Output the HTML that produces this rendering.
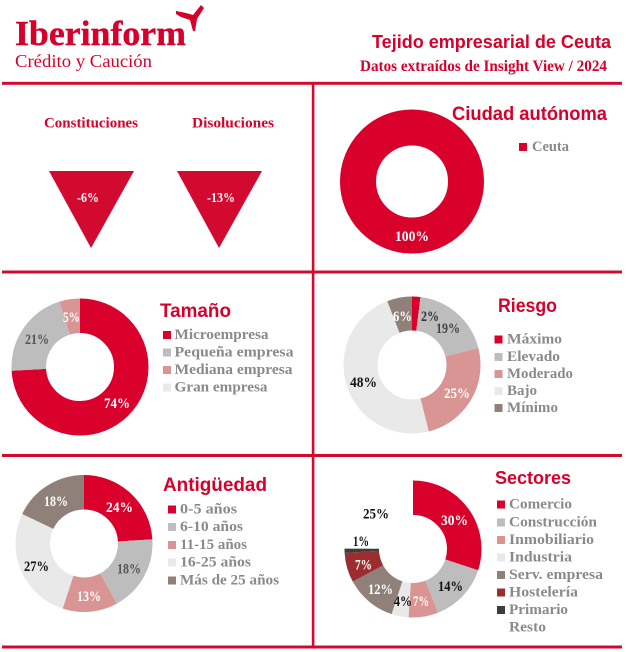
<!DOCTYPE html>
<html><head><meta charset="utf-8"><style>
html,body{margin:0;padding:0;background:#fff;}
svg{display:block;}
.s{font-family:"Liberation Sans",sans-serif;font-weight:bold;fill:#d7002b;}
.f{font-family:"Liberation Serif",serif;font-weight:bold;}
.lg{font-family:"Liberation Serif",serif;font-weight:bold;fill:#8a8a8a;font-size:15px;}
.p{font-family:"Liberation Serif",serif;font-weight:bold;font-size:15px;text-anchor:start;}
</style></head><body>
<svg width="626" height="652" viewBox="0 0 626 652" xmlns="http://www.w3.org/2000/svg">
<rect width="626" height="652" fill="#fff"/>
<!-- header -->
<text x="15" y="45" class="f" font-size="35" fill="#d7002b" stroke="#d7002b" stroke-width="0.4" textLength="171" lengthAdjust="spacingAndGlyphs">Iberinform</text>
<text x="15" y="67" font-family="Liberation Serif, serif" font-size="18" fill="#d7002b" textLength="137" lengthAdjust="spacingAndGlyphs">Crédito y Caución</text>
<polygon points="176,11 186,13 193,15 201,5 204,8 197,19 195,31 193,31 190,20 181,17 176,14" fill="#d7002b"/>
<text x="372" y="48" class="s" font-size="18" textLength="239" lengthAdjust="spacingAndGlyphs">Tejido empresarial de Ceuta</text>
<text x="360" y="71" class="f" font-size="16" fill="#d7002b" textLength="247" lengthAdjust="spacingAndGlyphs">Datos extraídos de Insight View / 2024</text>
<!-- grid lines -->
<g fill="#d20a30">
<rect x="2" y="81.8" width="620" height="3"/>
<rect x="2" y="270.5" width="620" height="3"/>
<rect x="2" y="454" width="620" height="3"/>
<rect x="2" y="645.5" width="620" height="3"/>
<rect x="311.8" y="83" width="2.6" height="565"/>
</g>
<!-- top-left -->
<text x="44" y="127.5" class="f" font-size="15" fill="#d7002b" textLength="94" lengthAdjust="spacingAndGlyphs">Constituciones</text>
<text x="192" y="127.5" class="f" font-size="15" fill="#d7002b" textLength="82" lengthAdjust="spacingAndGlyphs">Disoluciones</text>
<polygon points="49,171 134,171 91,248" fill="#d20a30"/>
<polygon points="177,171 262,171 219,248" fill="#d20a30"/>
<text x="77" y="202" class="f" font-size="14" fill="#fff" textLength="22" lengthAdjust="spacingAndGlyphs">-6%</text>
<text x="207" y="202" class="f" font-size="14" fill="#fff" textLength="28" lengthAdjust="spacingAndGlyphs">-13%</text>
<!-- Ciudad autónoma -->
<circle cx="412" cy="181.5" r="54" fill="none" stroke="#d9002b" stroke-width="36"/>
<text x="395" y="241" class="p" font-size="16" fill="#fff" textLength="34" lengthAdjust="spacingAndGlyphs">100%</text>
<text x="452" y="120" class="s" font-size="19" textLength="155" lengthAdjust="spacingAndGlyphs">Ciudad autónoma</text>
<rect x="519" y="143" width="8" height="8" fill="#d9002b"/>
<text x="532" y="151" class="lg" textLength="37" lengthAdjust="spacingAndGlyphs">Ceuta</text>

<!-- Tamaño -->
<g transform="rotate(-90 80 367)" fill="none" stroke-width="34.5">
<circle cx="80" cy="367" r="51.25" stroke="#d9002b" stroke-dasharray="238.29 400" stroke-dashoffset="0"/>
<circle cx="80" cy="367" r="51.25" stroke="#bdbdbd" stroke-dasharray="67.62 400" stroke-dashoffset="-238.29"/>
<circle cx="80" cy="367" r="51.25" stroke="#d99594" stroke-dasharray="16.10 400" stroke-dashoffset="-305.91"/>
</g>
<text x="104" y="408" class="p" fill="#fff" textLength="26" lengthAdjust="spacingAndGlyphs">74%</text>
<text x="25" y="344" class="p" fill="#555" textLength="24" lengthAdjust="spacingAndGlyphs">21%</text>
<text x="63" y="322" class="p" fill="#fff" textLength="17" lengthAdjust="spacingAndGlyphs">5%</text>
<text x="160" y="317" class="s" font-size="19" textLength="71" lengthAdjust="spacingAndGlyphs">Tamaño</text>
<rect x="163" y="331" width="8" height="8" fill="#d9002b"/>
<rect x="163" y="348.5" width="8" height="8" fill="#bdbdbd"/>
<rect x="163" y="366" width="8" height="8" fill="#d99594"/>
<rect x="163" y="383.5" width="8" height="8" fill="#e9e9e9"/>
<text x="174.5" y="339" class="lg" textLength="94" lengthAdjust="spacingAndGlyphs">Microempresa</text>
<text x="174.5" y="356.5" class="lg" textLength="119" lengthAdjust="spacingAndGlyphs">Pequeña empresa</text>
<text x="174.5" y="374" class="lg" textLength="118" lengthAdjust="spacingAndGlyphs">Mediana empresa</text>
<text x="174.5" y="391.5" class="lg" textLength="93" lengthAdjust="spacingAndGlyphs">Gran empresa</text>

<!-- Riesgo -->
<g transform="rotate(-90 412 365)" fill="none" stroke-width="34">
<circle cx="412" cy="365" r="51.5" stroke="#d9002b" stroke-dasharray="6.47 400" stroke-dashoffset="0"/>
<circle cx="412" cy="365" r="51.5" stroke="#bdbdbd" stroke-dasharray="61.48 400" stroke-dashoffset="-6.47"/>
<circle cx="412" cy="365" r="51.5" stroke="#d99594" stroke-dasharray="80.90 400" stroke-dashoffset="-67.95"/>
<circle cx="412" cy="365" r="51.5" stroke="#e9e9e9" stroke-dasharray="155.32 400" stroke-dashoffset="-148.85"/>
<circle cx="412" cy="365" r="51.5" stroke="#8f8079" stroke-dasharray="19.41 400" stroke-dashoffset="-304.17"/>
</g>
<text x="393" y="321" class="p" fill="#fff" textLength="19" lengthAdjust="spacingAndGlyphs">6%</text>
<text x="421" y="321" class="p" fill="#333" textLength="18" lengthAdjust="spacingAndGlyphs">2%</text>
<text x="436" y="333" class="p" fill="#444" textLength="24" lengthAdjust="spacingAndGlyphs">19%</text>
<text x="350" y="387" class="p" fill="#111" textLength="27" lengthAdjust="spacingAndGlyphs">48%</text>
<text x="444" y="398" class="p" fill="#fff" textLength="26" lengthAdjust="spacingAndGlyphs">25%</text>
<text x="498" y="312" class="s" font-size="19" textLength="59" lengthAdjust="spacingAndGlyphs">Riesgo</text>
<rect x="494.5" y="335.5" width="8" height="8" fill="#d9002b"/>
<rect x="494.5" y="353" width="8" height="8" fill="#bdbdbd"/>
<rect x="494.5" y="370" width="8" height="8" fill="#d99594"/>
<rect x="494.5" y="387" width="8" height="8" fill="#e9e9e9"/>
<rect x="494.5" y="404" width="8" height="8" fill="#8f8079"/>
<text x="507" y="343.5" class="lg" textLength="55" lengthAdjust="spacingAndGlyphs">Máximo</text>
<text x="507" y="361" class="lg" textLength="53" lengthAdjust="spacingAndGlyphs">Elevado</text>
<text x="507" y="378" class="lg" textLength="66" lengthAdjust="spacingAndGlyphs">Moderado</text>
<text x="507" y="395" class="lg" textLength="30" lengthAdjust="spacingAndGlyphs">Bajo</text>
<text x="507" y="412" class="lg" textLength="51" lengthAdjust="spacingAndGlyphs">Mínimo</text>

<!-- Antigüedad -->
<g transform="rotate(-90 84 543.5)" fill="none" stroke-width="34.5">
<circle cx="84" cy="543.5" r="51.25" stroke="#d9002b" stroke-dasharray="77.28 400" stroke-dashoffset="0"/>
<circle cx="84" cy="543.5" r="51.25" stroke="#bdbdbd" stroke-dasharray="57.96 400" stroke-dashoffset="-77.28"/>
<circle cx="84" cy="543.5" r="51.25" stroke="#d99594" stroke-dasharray="41.86 400" stroke-dashoffset="-135.24"/>
<circle cx="84" cy="543.5" r="51.25" stroke="#e9e9e9" stroke-dasharray="86.94 400" stroke-dashoffset="-177.10"/>
<circle cx="84" cy="543.5" r="51.25" stroke="#8f8079" stroke-dasharray="57.97 400" stroke-dashoffset="-264.04"/>
</g>
<text x="106" y="512" class="p" fill="#fff" textLength="27" lengthAdjust="spacingAndGlyphs">24%</text>
<text x="117" y="573.5" class="p" fill="#555" textLength="24" lengthAdjust="spacingAndGlyphs">18%</text>
<text x="77" y="601" class="p" fill="#fff" textLength="24" lengthAdjust="spacingAndGlyphs">13%</text>
<text x="24" y="571" class="p" fill="#111" textLength="25" lengthAdjust="spacingAndGlyphs">27%</text>
<text x="44" y="506" class="p" fill="#fff" textLength="24" lengthAdjust="spacingAndGlyphs">18%</text>
<text x="163" y="491" class="s" font-size="19" textLength="104" lengthAdjust="spacingAndGlyphs">Antigüedad</text>
<rect x="168" y="505.5" width="8" height="8" fill="#d9002b"/>
<rect x="168" y="523" width="8" height="8" fill="#bdbdbd"/>
<rect x="168" y="541" width="8" height="8" fill="#d99594"/>
<rect x="168" y="558.5" width="8" height="8" fill="#e9e9e9"/>
<rect x="168" y="576.5" width="8" height="8" fill="#8f8079"/>
<text x="180" y="513.5" class="lg" textLength="57" lengthAdjust="spacingAndGlyphs">0-5 años</text>
<text x="180" y="531" class="lg" textLength="63" lengthAdjust="spacingAndGlyphs">6-10 años</text>
<text x="180" y="549" class="lg" textLength="67" lengthAdjust="spacingAndGlyphs">11-15 años</text>
<text x="180" y="566.5" class="lg" textLength="71" lengthAdjust="spacingAndGlyphs">16-25 años</text>
<text x="180" y="584.5" class="lg" textLength="99" lengthAdjust="spacingAndGlyphs">Más de 25 años</text>

<!-- Sectores -->
<g transform="rotate(-90 413 549)" fill="none" stroke-width="34.5">
<circle cx="413" cy="549" r="51.25" stroke="#d9002b" stroke-dasharray="96.60 400" stroke-dashoffset="0"/>
<circle cx="413" cy="549" r="51.25" stroke="#bdbdbd" stroke-dasharray="45.08 400" stroke-dashoffset="-96.60"/>
<circle cx="413" cy="549" r="51.25" stroke="#d99594" stroke-dasharray="22.54 400" stroke-dashoffset="-141.68"/>
<circle cx="413" cy="549" r="51.25" stroke="#e9e9e9" stroke-dasharray="12.88 400" stroke-dashoffset="-164.22"/>
<circle cx="413" cy="549" r="51.25" stroke="#8f8079" stroke-dasharray="38.64 400" stroke-dashoffset="-177.10"/>
<circle cx="413" cy="549" r="51.25" stroke="#9b2d30" stroke-dasharray="22.54 400" stroke-dashoffset="-215.74"/>
<circle cx="413" cy="549" r="51.25" stroke="#3c3c3c" stroke-dasharray="3.22 400" stroke-dashoffset="-238.28"/>
</g>
<text x="441" y="525" class="p" fill="#fff" textLength="27" lengthAdjust="spacingAndGlyphs">30%</text>
<text x="438" y="591" class="p" fill="#111" textLength="25" lengthAdjust="spacingAndGlyphs">14%</text>
<text x="413" y="606" class="p" fill="#fff" textLength="16" lengthAdjust="spacingAndGlyphs">7%</text>
<text x="394" y="606" class="p" fill="#111" textLength="18" lengthAdjust="spacingAndGlyphs">4%</text>
<text x="368" y="594" class="p" fill="#fff" textLength="25" lengthAdjust="spacingAndGlyphs">12%</text>
<text x="355" y="569.5" class="p" fill="#fff" textLength="17" lengthAdjust="spacingAndGlyphs">7%</text>
<text x="353" y="546" class="p" fill="#111" textLength="16" lengthAdjust="spacingAndGlyphs">1%</text>
<text x="363" y="518.5" class="p" fill="#111" textLength="26" lengthAdjust="spacingAndGlyphs">25%</text>
<text x="495" y="484" class="s" font-size="18" textLength="76" lengthAdjust="spacingAndGlyphs">Sectores</text>
<rect x="497" y="500.5" width="8" height="8" fill="#d9002b"/>
<rect x="497" y="518.5" width="8" height="8" fill="#bdbdbd"/>
<rect x="497" y="536" width="8" height="8" fill="#d99594"/>
<rect x="497" y="553.5" width="8" height="8" fill="#e9e9e9"/>
<rect x="497" y="571" width="8" height="8" fill="#8f8079"/>
<rect x="497" y="588.5" width="8" height="8" fill="#9b2d30"/>
<rect x="497" y="606" width="8" height="8" fill="#3c3c3c"/>
<text x="509" y="508.5" class="lg" textLength="63" lengthAdjust="spacingAndGlyphs">Comercio</text>
<text x="509" y="526.5" class="lg" textLength="88" lengthAdjust="spacingAndGlyphs">Construcción</text>
<text x="509" y="544" class="lg" textLength="85" lengthAdjust="spacingAndGlyphs">Inmobiliario</text>
<text x="509" y="561.5" class="lg" textLength="63" lengthAdjust="spacingAndGlyphs">Industria</text>
<text x="509" y="579" class="lg" textLength="94" lengthAdjust="spacingAndGlyphs">Serv. empresa</text>
<text x="509" y="596.5" class="lg" textLength="69" lengthAdjust="spacingAndGlyphs">Hostelería</text>
<text x="509" y="614" class="lg" textLength="59" lengthAdjust="spacingAndGlyphs">Primario</text>
<text x="509" y="631.5" class="lg" textLength="37" lengthAdjust="spacingAndGlyphs">Resto</text>
</svg>
</body></html>
